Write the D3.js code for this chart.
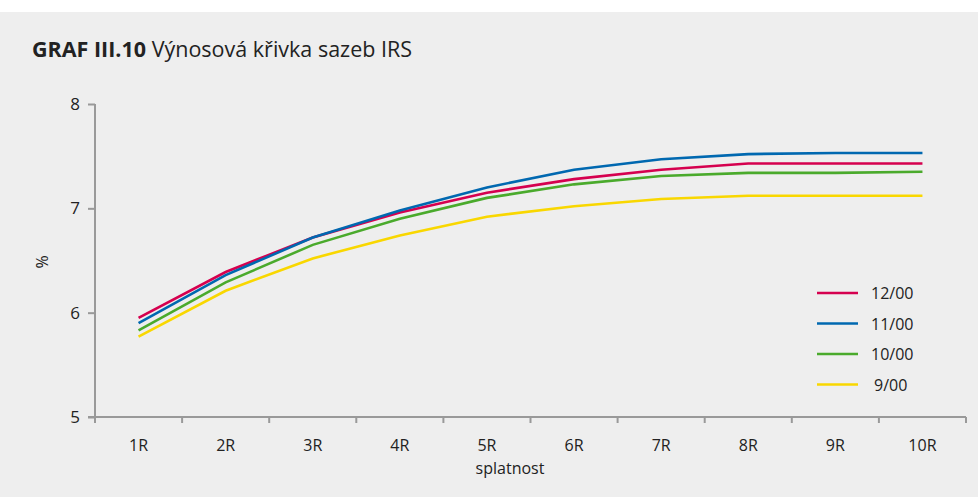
<!DOCTYPE html>
<html>
<head>
<meta charset="utf-8">
<script src="https://cdn.jsdelivr.net/npm/d3@7"></script>
<style>
	body { margin: 0; background: #fff; }
	svg text { font-family: "Open Sans", "Noto Sans", sans-serif; fill: #222; }
</style>
</head>
<body>
<div id="chart"></div>
<script>
'use strict';

// maturity categories
var splatnost = ['1R','2R','3R','4R','5R','6R','7R','8R','9R','10R'];
var yTicks = [5, 6, 7, 8];

// IRS rates (%) per month
var s1200 = [5.95, 6.39, 6.72, 6.96, 7.15, 7.28, 7.37, 7.43, 7.43, 7.43];
var s1100 = [5.90, 6.36, 6.72, 6.98, 7.20, 7.37, 7.47, 7.52, 7.53, 7.53];
var s1000 = [5.83, 6.29, 6.65, 6.90, 7.10, 7.23, 7.31, 7.34, 7.34, 7.35];
var s0900 = [5.77, 6.21, 6.52, 6.74, 6.92, 7.02, 7.09, 7.12, 7.12, 7.12];

var seriesNames = ['12/00', '11/00', '10/00', '9/00'];
var seriesColors = ['#d5004f', '#0068b0', '#4aaa2c', '#f9d700'];
var series = [s1200, s1100, s1000, s0900];

var width = 978, height = 497;

var svg = d3.select('#chart').append('svg')
	.attr('width', width)
	.attr('height', height);

// grey panel
svg.append('rect')
	.attr('x', 0).attr('y', 12)
	.attr('width', width).attr('height', height - 12)
	.attr('fill', '#eeeeee');

// title
var title = svg.append('text')
	.attr('x', 32).attr('y', 57)
	.style('font-size', '21.5px');
title.append('tspan').style('font-weight', 'bold').text('GRAF III.10');
title.append('tspan').text(' Výnosová křivka sazeb IRS');

var x = d3.scaleBand()
	.domain(splatnost)
	.range([95, 966]);

var y = d3.scaleLinear()
	.domain([5, 8])
	.range([417, 104]);

var axisColor = '#999';

// y axis
var yAxis = svg.append('g')
	.attr('transform', 'translate(95,0)')
	.call(d3.axisLeft(y).tickValues(yTicks).tickSize(7).tickPadding(8).tickFormat(d3.format('d')));
yAxis.select('.domain').remove();
yAxis.selectAll('line').attr('stroke', axisColor).attr('stroke-width', 2);
yAxis.selectAll('text').style('font-size', '17px').attr('fill', '#222');
svg.append('line')
	.attr('x1', 95).attr('x2', 95)
	.attr('y1', 104).attr('y2', 423)
	.attr('stroke', axisColor).attr('stroke-width', 2);

// x axis: ticks on band boundaries
var xg = svg.append('g');
xg.append('line')
	.attr('x1', 88).attr('x2', 966)
	.attr('y1', 417).attr('y2', 417)
	.attr('stroke', axisColor).attr('stroke-width', 2);
var bounds = splatnost.map(function(d){ return x(d) + x.bandwidth(); });
xg.selectAll('.xtick')
	.data(bounds)
	.enter()
	.append('line')
	.attr('x1', function(d){ return d; })
	.attr('x2', function(d){ return d; })
	.attr('y1', 417).attr('y2', 423)
	.attr('stroke', axisColor).attr('stroke-width', 2);
xg.selectAll('.xlabel')
	.data(splatnost)
	.enter()
	.append('text')
	.attr('x', function(d){ return x(d) + x.bandwidth() / 2; })
	.attr('y', 451)
	.attr('text-anchor', 'middle')
	.style('font-size', '16px')
	.text(function(d){ return d; });

// axis titles
svg.append('text')
	.attr('x', 510).attr('y', 474)
	.attr('text-anchor', 'middle')
	.style('font-size', '16px')
	.text('splatnost');
svg.append('text')
	.attr('transform', 'translate(48,262) rotate(-90)')
	.attr('text-anchor', 'middle')
	.style('font-size', '16px')
	.text('%');

// lines (draw yellow first so red/blue sit on top)
var line = d3.line()
	.x(function(d, i){ return x(splatnost[i]) + x.bandwidth() / 2; })
	.y(function(d){ return y(d); });

var order = [3, 2, 0, 1];
svg.selectAll('.serie')
	.data(order)
	.enter()
	.append('path')
	.attr('d', function(k){ return line(series[k]); })
	.attr('fill', 'none')
	.attr('stroke', function(k){ return seriesColors[k]; })
	.attr('stroke-width', 2.6);

// legend
var legend = svg.selectAll('.legend')
	.data(seriesNames)
	.enter()
	.append('g')
	.attr('transform', function(d, i){ return 'translate(817,' + (293 + i * 30.5) + ')'; });
legend.append('line')
	.attr('x1', 0).attr('x2', 41)
	.attr('stroke', function(d, i){ return seriesColors[i]; })
	.attr('stroke-width', 2.6);
legend.append('text')
	.attr('x', function(d){ return d.length < 5 ? 57 : 54; })
	.attr('y', 6)
	.style('font-size', '16px')
	.text(function(d){ return d; });
</script>
</body>
</html>
